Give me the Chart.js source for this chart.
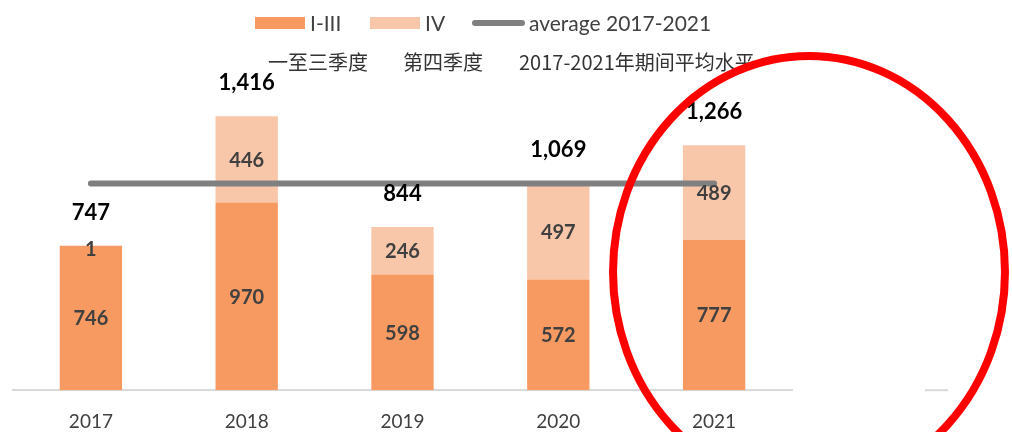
<!DOCTYPE html>
<html>
<head>
<meta charset="utf-8">
<script src="https://cdn.jsdelivr.net/npm/chart.js@4.4.1/dist/chart.umd.min.js"></script>
<style>
	html, body {margin: 0; padding: 0; background: #fff;}
	.wrap {position: relative; width: 1012px; height: 432px;}
</style>
</head>
<body>
<div class="wrap"><canvas id="chart" width="1012" height="432"></canvas></div>
<script>
const years = ['2017', '2018', '2019', '2020', '2021']
const q1to3 = [746, 970, 598, 572, 777]
const q4 = [1, 446, 246, 497, 489]
const totals = [747, 1416, 844, 1069, 1266]
const average = [1068, 1068, 1068, 1068, 1068]
const legendNames = ['I-III', 'IV', 'average 2017-2021']
const cnNames = ['一至三季度', '第四季度', '2017-2021年期间平均水平']

const orange = '#F79A62'
const peach = '#F8C6A9'
const gray = '#808080'
const latin = 'Lato, "Open Sans", sans-serif'
const cjk = '"Noto Sans CJK SC", sans-serif'

// value labels, legend and the red mark, drawn after the bars
const overlay = {
	id: 'overlay',
	afterDatasetsDraw(chart) {
		const ctx = chart.ctx
		ctx.save()
		ctx.textAlign = 'center'
		ctx.textBaseline = 'middle'
		ctx.font = 'bold 20px ' + latin
		ctx.fillStyle = '#404040'
		for (const index of [0, 1]) {
			const meta = chart.getDatasetMeta(index)
			meta.data.forEach((bar, i) => {
				const value = chart.data.datasets[index].data[i]
				ctx.fillText(String(value), bar.x, (bar.y + bar.base) / 2 + (value < 5 ? 4 : 1))
			})
		}
		ctx.font = 'bold 22px ' + latin
		ctx.fillStyle = '#000'
		chart.getDatasetMeta(1).data.forEach((bar, i) => {
			ctx.fillText(totals[i].toLocaleString('en-US'), bar.x, bar.y - 33)
		})

		// legend
		ctx.textAlign = 'left'
		ctx.font = '21px ' + latin
		ctx.fillStyle = orange
		ctx.fillRect(255, 17, 50, 12)
		ctx.fillStyle = peach
		ctx.fillRect(370, 17, 50, 12)
		ctx.strokeStyle = gray
		ctx.lineWidth = 6
		ctx.lineCap = 'round'
		ctx.beginPath()
		ctx.moveTo(475, 23)
		ctx.lineTo(522, 23)
		ctx.stroke()
		ctx.fillStyle = '#404040'
		ctx.fillText(legendNames[0], 310, 24)
		ctx.fillText(legendNames[1], 425, 24)
		ctx.fillText(legendNames[2], 529, 24)

		ctx.font = '20px ' + cjk
		ctx.fillStyle = '#333'
		ctx.fillText(cnNames[0], 268, 62)
		ctx.fillText(cnNames[1], 403, 62)
		ctx.fillText(cnNames[2], 519, 62)

		// stray piece of axis line
		ctx.strokeStyle = '#D9D9D9'
		ctx.lineWidth = 2
		ctx.lineCap = 'butt'
		ctx.beginPath()
		ctx.moveTo(925, chart.chartArea.bottom)
		ctx.lineTo(948, chart.chartArea.bottom)
		ctx.stroke()

		// red ellipse
		ctx.strokeStyle = '#FF0000'
		ctx.lineWidth = 8
		ctx.beginPath()
		ctx.ellipse(809, 272, 196, 216, 0, 0, Math.PI * 2)
		ctx.stroke()
		ctx.restore()
	},
}

new Chart(document.getElementById('chart'), {
	data: {
		labels: years,
		datasets: [
			{type: 'bar', label: legendNames[0], data: q1to3, backgroundColor: orange, order: 2, stack: 's'},
			{type: 'bar', label: legendNames[1], data: q4, backgroundColor: peach, order: 2, stack: 's'},
			{
				type: 'line', label: legendNames[2], data: average,
				borderColor: gray, borderWidth: 6, borderCapStyle: 'round',
				pointRadius: 0, fill: false, order: 0,
			},
		],
	},
	options: {
		responsive: false,
		animation: false,
		layout: {padding: {top: 100, left: 13, right: 220, bottom: -21}},
		datasets: {bar: {barPercentage: 0.4, categoryPercentage: 1}},
		scales: {
			x: {
				stacked: true,
				grid: {display: false, drawTicks: false},
				border: {display: true, color: '#D9D9D9', width: 2},
				ticks: {padding: 20, color: '#404040', font: {family: latin, size: 19}},
			},
			y: {
				stacked: true,
				display: false,
				min: 0,
				max: 1500,
			},
		},
		plugins: {
			legend: {display: false},
			tooltip: {enabled: false},
		},
	},
	plugins: [overlay],
})
</script>
</body>
</html>
